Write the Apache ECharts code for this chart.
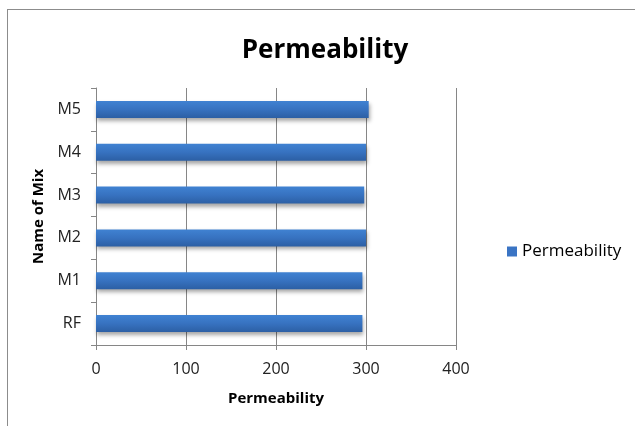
<!DOCTYPE html>
<html>
<head>
<meta charset="utf-8">
<script src="https://cdn.jsdelivr.net/npm/echarts@6/dist/echarts.min.js"></script>
<style>
  html, body { margin: 0; padding: 0; background: #fff; }
  #frame { position: absolute; left: 7px; top: 9px; width: 700px; height: 500px;
           border-left: 1px solid #8c8c8c; border-top: 1px solid #8c8c8c; }
  #chart { position: absolute; left: 0; top: 0; width: 635px; height: 426px; }
</style>
</head>
<body>
<div id="frame"></div>
<div id="chart"></div>
<script>
// Permeability by mix
const mixNames = ['RF', 'M1', 'M2', 'M3', 'M4', 'M5'];
const permeability = [296, 296, 300, 298, 300, 303];
const xTicks = { min: 0, max: 400, interval: 100 };

const font = '"Open Sans", "Liberation Sans", sans-serif';
const chart = echarts.init(document.getElementById('chart'), null, { renderer: 'canvas' });

chart.setOption({
  animation: false,
  backgroundColor: 'transparent',
  title: {
    text: 'Permeability',
    left: 320, top: 33, textAlign: 'center',
    textStyle: { fontFamily: font, fontWeight: 'bold', fontSize: 26, color: '#000' }
  },
  legend: {
    data: ['Permeability'],
    left: 502, top: 238,
    itemWidth: 10, itemHeight: 10, itemGap: 5,
    icon: 'rect',
    itemStyle: { color: '#3a74c4' },
    textStyle: { fontFamily: font, fontSize: 17, color: '#000' }
  },
  grid: { left: 96, right: 179, top: 88, bottom: 81, containLabel: false },
  xAxis: {
    type: 'value',
    min: xTicks.min, max: xTicks.max, interval: xTicks.interval,
    name: 'Permeability', nameLocation: 'middle', nameGap: 46,
    nameTextStyle: { fontFamily: font, fontWeight: 'bold', fontSize: 15, color: '#000' },
    axisLine: { show: true, lineStyle: { color: '#868686' } },
    axisTick: { show: true, length: 5, lineStyle: { color: '#868686' } },
    axisLabel: { fontFamily: font, fontSize: 16, color: '#222', margin: 16 },
    splitLine: { show: true, lineStyle: { color: '#868686', width: 1 } },
    z: 0
  },
  yAxis: {
    type: 'category',
    data: mixNames,
    name: 'Name of Mix', nameLocation: 'middle', nameGap: 45, nameRotate: 90,
    nameTextStyle: { fontFamily: font, fontWeight: 'bold', fontSize: 15, color: '#000' },
    axisLine: { show: true, lineStyle: { color: '#868686' } },
    axisTick: { show: true, length: 5, lineStyle: { color: '#868686' } },
    axisLabel: { fontFamily: font, fontSize: 16, color: '#222', margin: 15 },
    splitLine: { show: false }
  },
  series: [{
    name: 'Permeability',
    type: 'bar',
    z: 10,
    data: permeability,
    barWidth: 17,
    itemStyle: {
      color: new echarts.graphic.LinearGradient(0, 0, 0, 1, [
        { offset: 0, color: '#4082d2' },
        { offset: 0.5, color: '#3772c0' },
        { offset: 1, color: '#2c5fa4' }
      ]),
      shadowColor: 'rgba(0,0,0,0.35)',
      shadowBlur: 4,
      shadowOffsetY: 3,
      shadowOffsetX: 1
    }
  }]
});
</script>
</body>
</html>
